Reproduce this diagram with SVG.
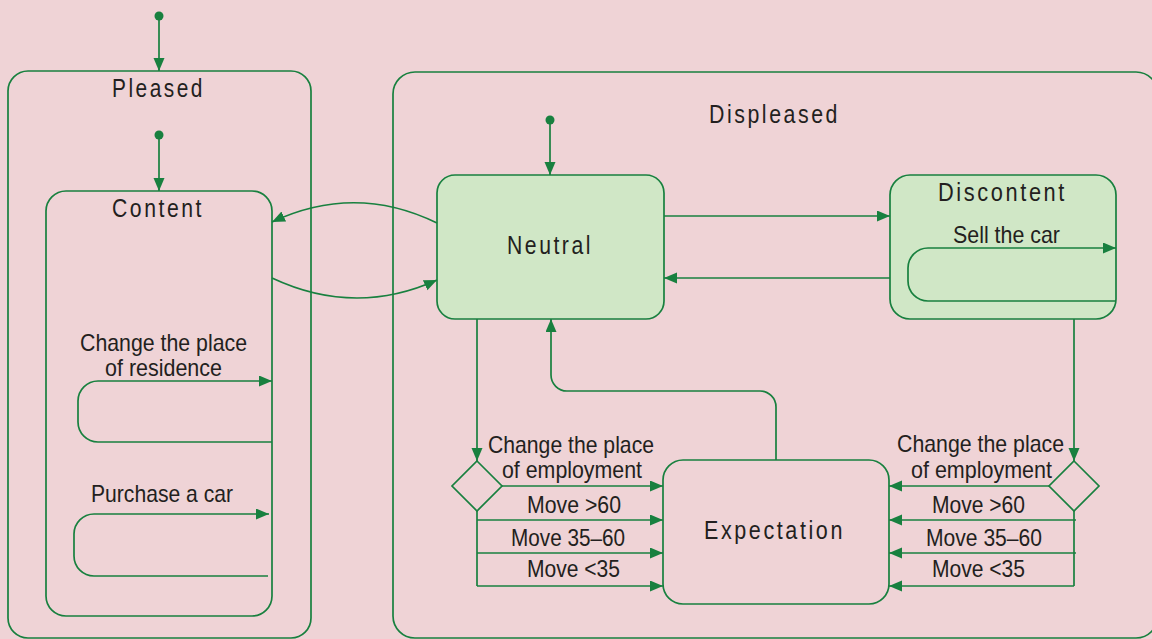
<svg xmlns="http://www.w3.org/2000/svg" width="1152" height="639" viewBox="0 0 1152 639">
<style>
.bg{fill:#EFD3D6}
.st{fill:none;stroke:#18803F;stroke-width:1.7}
.fl{fill:#D0E7C6;stroke:#18803F;stroke-width:1.7}
.ln{fill:none;stroke:#18803F;stroke-width:1.7;marker-end:url(#ah)}
.pl{fill:none;stroke:#18803F;stroke-width:1.7}
.dot{fill:#18803F}
.t{font-family:"Liberation Sans Narrow","Liberation Sans",Arial,sans-serif;font-size:25px;fill:#231F20;letter-spacing:3px}
.l{font-family:"Liberation Sans Narrow","Liberation Sans",Arial,sans-serif;font-size:24px;fill:#231F20}
</style>
<defs>
<marker id="ah" markerUnits="userSpaceOnUse" markerWidth="14" markerHeight="12" refX="13" refY="5.5" orient="auto">
<path d="M0,0 L13,5.5 L0,11 z" fill="#18803F"/>
</marker>
</defs>
<rect class="bg" x="0" y="0" width="1152" height="639"/>

<g id="pleased">
<rect class="st" x="8" y="71" width="303" height="567" rx="20"/>
<text class="t" x="112" y="97" textLength="93" lengthAdjust="spacingAndGlyphs">Pleased</text>
</g>
<g id="content">
<rect class="st" x="46" y="191" width="226" height="425" rx="20"/>
<text class="t" x="112" y="217" textLength="92" lengthAdjust="spacingAndGlyphs">Content</text>
</g>
<g id="displeased">
<rect class="st" x="393" y="72" width="765" height="566" rx="22"/>
<text class="t" x="709" y="123" textLength="131" lengthAdjust="spacingAndGlyphs">Displeased</text>
</g>
<g id="neutral">
<rect class="fl" x="437" y="175" width="227" height="144" rx="18"/>
<text class="t" x="507" y="254" textLength="86" lengthAdjust="spacingAndGlyphs">Neutral</text>
</g>
<g id="discontent">
<rect class="fl" x="890" y="175" width="226" height="144" rx="20"/>
<text class="t" x="938" y="201" textLength="129" lengthAdjust="spacingAndGlyphs">Discontent</text>
</g>
<g id="expectation">
<rect class="st" x="663" y="460" width="226" height="144" rx="20"/>
<text class="t" x="704" y="539" textLength="141" lengthAdjust="spacingAndGlyphs">Expectation</text>
</g>
<g id="decision-left">
<polygon class="pl" points="477,461 502,486 477,511 452,486"/>
</g>
<g id="decision-right">
<polygon class="pl" points="1074,461 1099,486 1074,511 1049,486"/>
</g>

<g id="connectors">
<circle class="dot" cx="159" cy="16" r="4.5"/>
<path class="ln" d="M159,20 V71"/>
<circle class="dot" cx="159" cy="135" r="4.5"/>
<path class="ln" d="M159,139 V191"/>
<circle class="dot" cx="550" cy="120" r="4.5"/>
<path class="ln" d="M550,124 V175"/>

<path class="ln" d="M437,223 Q355,183 272,222"/>
<path class="ln" d="M272,278 Q355,317 437,280"/>

<path class="ln" d="M272,442 H98 A20,20 0 0 1 78,422 V401 A20,20 0 0 1 98,381 H272"/>
<text class="l" x="80" y="351" textLength="167" lengthAdjust="spacingAndGlyphs">Change the place</text>
<text class="l" x="105" y="376" textLength="117" lengthAdjust="spacingAndGlyphs">of residence</text>

<path class="ln" d="M268,576 H94 A20,20 0 0 1 74,556 V534 A20,20 0 0 1 94,514 H269"/>
<text class="l" x="91" y="502" textLength="142" lengthAdjust="spacingAndGlyphs">Purchase a car</text>

<path class="ln" d="M664,216 H890"/>
<path class="ln" d="M890,278 H664"/>

<path class="ln" d="M1116,301 H928 A20,20 0 0 1 908,281 V268 A20,20 0 0 1 928,248 H1116"/>
<text class="l" x="953" y="243" textLength="107" lengthAdjust="spacingAndGlyphs">Sell the car</text>

<path class="ln" d="M477,319 V461"/>
<path class="ln" d="M502,486 H663"/>
<path class="pl" d="M477,511 V586"/>
<path class="ln" d="M477,520 H663"/>
<path class="ln" d="M477,553 H663"/>
<path class="ln" d="M477,586 H663"/>
<text class="l" x="488" y="453" textLength="166" lengthAdjust="spacingAndGlyphs">Change the place</text>
<text class="l" x="502" y="478" textLength="140" lengthAdjust="spacingAndGlyphs">of employment</text>
<text class="l" x="527" y="513" textLength="94" lengthAdjust="spacingAndGlyphs">Move &gt;60</text>
<text class="l" x="511" y="546" textLength="114" lengthAdjust="spacingAndGlyphs">Move 35–60</text>
<text class="l" x="527" y="577" textLength="93" lengthAdjust="spacingAndGlyphs">Move &lt;35</text>

<path class="ln" d="M1074,319 V461"/>
<path class="ln" d="M1049,486 H889"/>
<path class="pl" d="M1074,511 V586"/>
<path class="ln" d="M1076,520 H889"/>
<path class="ln" d="M1076,553 H889"/>
<path class="ln" d="M1074,586 H889"/>
<text class="l" x="897" y="452" textLength="167" lengthAdjust="spacingAndGlyphs">Change the place</text>
<text class="l" x="911" y="478" textLength="141" lengthAdjust="spacingAndGlyphs">of employment</text>
<text class="l" x="932" y="513" textLength="93" lengthAdjust="spacingAndGlyphs">Move &gt;60</text>
<text class="l" x="926" y="546" textLength="116" lengthAdjust="spacingAndGlyphs">Move 35–60</text>
<text class="l" x="932" y="577" textLength="93" lengthAdjust="spacingAndGlyphs">Move &lt;35</text>

<path class="ln" d="M776,460 V407 A16,16 0 0 0 760,391 H567 A16,16 0 0 1 551,375 V319"/>
</g>
</svg>
